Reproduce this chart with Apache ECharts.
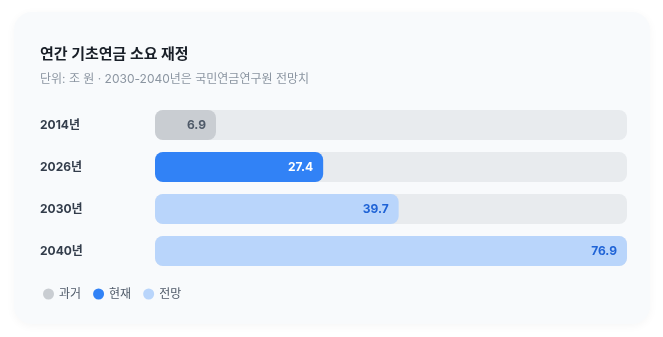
<!DOCTYPE html>
<html><head><meta charset="utf-8">
<script src="https://cdn.jsdelivr.net/npm/echarts@6/dist/echarts.min.js"></script>
<style>
html,body{margin:0;padding:0;background:#fff;width:663px;height:337px;overflow:hidden;}
#card{position:absolute;left:14px;top:12px;width:636px;height:312px;border-radius:18px;background:#f8fafc;box-shadow:0 2px 10px rgba(0,0,0,0.04);}
#chart{position:absolute;left:0;top:0;width:663px;height:337px;}
</style></head>
<body>
<div id="card"></div>
<div id="chart"></div>
<script>
const categories = ['2014년', '2026년', '2030년', '2040년'];
const pastValues = [6.9, null, null, null];
const currentValues = [null, 27.4, null, null];
const forecastValues = [null, null, 39.7, 76.9];
const seriesNames = ['과거', '현재', '전망'];
const titleText = '연간 기초연금 소요 재정';
const subtitleText = '단위: 조 원 · 2030-2040년은 국민연금연구원 전망치';

const font = 'Inter, "Noto Sans CJK KR", sans-serif';
const allVals = [].concat(pastValues, currentValues, forecastValues).filter(v => v != null);
const maxVal = Math.max.apply(null, allVals);

const chart = echarts.init(document.getElementById('chart'), null, {renderer: 'canvas'});
function mkSeries(name, data, color, labelColor, bg) {
  return {
    name: name, type: 'bar', stack: 'total', data: data,
    barWidth: 30, barMinHeight: 61,
    showBackground: bg,
    backgroundStyle: {color: '#e8ebee', borderRadius: 8},
    itemStyle: {color: color, borderRadius: 8},
    label: {show: true, position: 'insideRight', distance: 10, color: labelColor,
      fontFamily: font, fontSize: 12, fontWeight: 'bold'},
    emphasis: {disabled: true}
  };
}
chart.setOption({
  backgroundColor: 'transparent',
  animation: false,
  textStyle: {fontFamily: font},
  title: {
    text: titleText, subtext: subtitleText, left: 35, top: 42, itemGap: 11,
    textStyle: {fontFamily: font, fontSize: 15, fontWeight: 'bold', color: '#191f28'},
    subtextStyle: {fontFamily: font, fontSize: 12, color: '#8b95a1'}
  },
  legend: {
    left: 38, top: 283, icon: 'circle', itemWidth: 11, itemHeight: 11, itemGap: 12,
    textStyle: {fontFamily: font, fontSize: 12, color: '#4e5968'},
    data: seriesNames
  },
  grid: {left: 155, right: 36, top: 104, height: 168, containLabel: false},
  xAxis: {type: 'value', min: 0, max: maxVal, show: false},
  yAxis: {
    type: 'category', data: categories, inverse: true,
    axisLine: {show: false}, axisTick: {show: false},
    axisLabel: {align: 'left', margin: 115, fontFamily: font, fontSize: 12,
      fontWeight: 'bold', color: '#333d4b'}
  },
  series: [
    mkSeries(seriesNames[0], pastValues, '#c9cdd2', '#4e5968', true),
    mkSeries(seriesNames[1], currentValues, '#3182f6', '#ffffff', false),
    mkSeries(seriesNames[2], forecastValues, '#b9d5fb', '#1f63d6', false)
  ]
});
</script>
</body></html>
